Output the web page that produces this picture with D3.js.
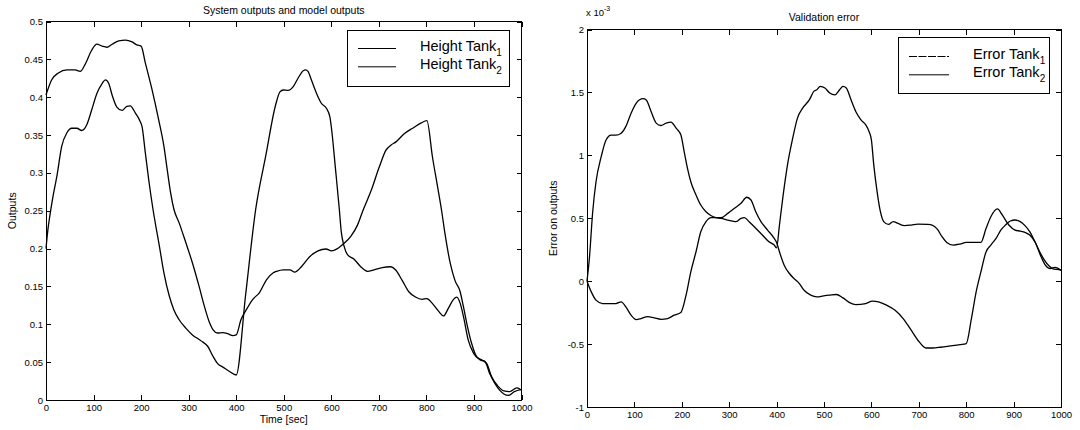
<!DOCTYPE html>
<html><head><meta charset="utf-8">
<script src="https://cdn.jsdelivr.net/npm/d3@7"></script>
<style>
body{margin:0;background:#fff}
svg{display:block}
text{font-family:"Liberation Sans",Arial,Helvetica,sans-serif;fill:#000}
</style>
</head><body>
<svg id="c" width="1080" height="430"></svg>
<script>
// ---------- data ----------
const timeTicks = [0,100,200,300,400,500,600,700,800,900,1000];
const timeTickLabels = ["0","100","200","300","400","500","600","700","800","900","1000"];
const outTicks = [0,0.05,0.1,0.15,0.2,0.25,0.3,0.35,0.4,0.45,0.5];
const outTickLabels = ["0","0.05","0.1","0.15","0.2","0.25","0.3","0.35","0.4","0.45","0.5"];
const errTicks = [-1,-0.5,0,0.5,1,1.5,2];
const errTickLabels = ["-1","-0.5","0","0.5","1","1.5","2"];
const heightNames = ["Height Tank", "Height Tank"];
const errorNames = ["Error Tank", "Error Tank"];
const subscripts = ["1","2"];

// [time (sec), height]
const heightTank1 = [[0,0.403],[12,0.423],[26,0.432],[44,0.436],[61,0.436],[72,0.434],[82,0.443],[96,0.462],[107,0.470],[118,0.4675],[128,0.466],[139,0.470],[153,0.4745],[167,0.4755],[181,0.473],[191,0.469],[200,0.4675],[209,0.445],[223,0.41],[237,0.370],[248,0.335],[255,0.304],[262,0.274],[269,0.252],[280,0.234],[294,0.208],[308,0.181],[322,0.150],[333,0.124],[344,0.102],[351,0.093],[361,0.0885],[372,0.089],[382,0.0876],[393,0.085],[400,0.086],[410,0.106],[421,0.119],[435,0.133],[449,0.142],[464,0.159],[478,0.168],[485,0.170],[499,0.172],[513,0.172],[523,0.169],[537,0.176],[554,0.189],[572,0.197],[589,0.1995],[600,0.197],[613,0.200],[627,0.207],[641,0.216],[655,0.231],[667,0.251],[684,0.277],[701,0.308],[715,0.330],[726,0.337],[736,0.341],[754,0.352],[771,0.359],[789,0.366],[801,0.369],[813,0.32],[824,0.28],[832,0.25],[839,0.22],[850,0.181],[860,0.158],[871,0.143],[878,0.123],[885,0.101],[895,0.075],[906,0.057],[919,0.052],[927,0.048],[937,0.031],[951,0.018],[963,0.012],[975,0.011],[990,0.016],[1000,0.013]];
const heightTank2 = [[0,0.200],[4,0.225],[8,0.243],[15,0.270],[23,0.296],[33,0.335],[44,0.353],[54,0.359],[65,0.359],[75,0.356],[86,0.364],[96,0.383],[107,0.405],[118,0.418],[125,0.423],[132,0.418],[139,0.403],[149,0.387],[160,0.3825],[170,0.388],[177,0.3885],[188,0.379],[198,0.368],[202,0.361],[209,0.326],[216,0.291],[225,0.252],[238,0.205],[248,0.168],[259,0.138],[269,0.119],[280,0.106],[294,0.095],[308,0.086],[322,0.080],[329,0.077],[340,0.071],[351,0.058],[361,0.048],[372,0.0434],[386,0.0376],[400,0.033],[420,0.14],[441,0.252],[462,0.322],[483,0.390],[492,0.407],[499,0.4095],[509,0.409],[520,0.414],[530,0.425],[541,0.435],[546,0.436],[551,0.434],[558,0.423],[569,0.405],[579,0.392],[590,0.385],[597,0.374],[600,0.361],[609,0.304],[617,0.251],[621,0.222],[627,0.203],[634,0.192],[648,0.186],[662,0.176],[676,0.170],[690,0.172],[707,0.175],[725,0.176],[735,0.172],[749,0.158],[763,0.143],[777,0.136],[791,0.133],[801,0.134],[812,0.128],[826,0.117],[836,0.111],[846,0.121],[857,0.133],[864,0.136],[871,0.128],[878,0.110],[888,0.079],[899,0.062],[913,0.053],[923,0.051],[933,0.035],[944,0.022],[954,0.013],[963,0.008],[972,0.006],[985,0.011],[1000,0.014]];

// [time (sec), error x 1e-3]
const errorTank1 = [[0,0],[9,-0.085],[19,-0.151],[33,-0.178],[47,-0.178],[61,-0.178],[72,-0.164],[82,-0.204],[93,-0.27],[104,-0.305],[114,-0.297],[128,-0.281],[142,-0.292],[156,-0.303],[170,-0.297],[184,-0.27],[198,-0.249],[209,-0.111],[219,0.074],[230,0.234],[240,0.393],[251,0.473],[262,0.505],[272,0.505],[283,0.505],[297,0.539],[311,0.579],[325,0.619],[337,0.667],[346,0.645],[356,0.552],[367,0.473],[381,0.406],[395,0.34],[400,0.308],[406,0.234],[416,0.127],[427,0.061],[437,0.02],[448,-0.019],[458,-0.072],[472,-0.111],[485,-0.125],[499,-0.117],[512,-0.111],[526,-0.106],[540,-0.133],[554,-0.17],[567,-0.186],[588,-0.178],[602,-0.159],[615,-0.165],[632,-0.191],[650,-0.231],[667,-0.297],[684,-0.39],[701,-0.483],[715,-0.531],[729,-0.531],[746,-0.525],[766,-0.515],[787,-0.504],[800,-0.496],[811,-0.297],[821,-0.085],[831,0.074],[842,0.234],[852,0.287],[863,0.34],[873,0.406],[883,0.446],[893,0.478],[903,0.486],[914,0.473],[924,0.441],[934,0.393],[945,0.313],[955,0.234],[965,0.167],[975,0.12],[985,0.095],[1000,0.09]];
const errorTank2 = [[0,0],[5,0.18],[12,0.55],[19,0.79],[30,0.99],[40,1.12],[51,1.16],[61,1.16],[72,1.176],[82,1.23],[93,1.335],[104,1.415],[118,1.45],[125,1.44],[135,1.35],[146,1.256],[156,1.237],[167,1.256],[177,1.264],[188,1.216],[198,1.163],[205,1.03],[212,0.897],[219,0.79],[230,0.685],[240,0.605],[251,0.552],[262,0.52],[272,0.505],[283,0.499],[297,0.486],[307,0.478],[314,0.473],[325,0.499],[332,0.505],[342,0.473],[356,0.42],[370,0.367],[384,0.313],[395,0.287],[400,0.265],[406,0.446],[413,0.66],[423,0.924],[434,1.136],[444,1.296],[455,1.375],[469,1.44],[479,1.51],[485,1.521],[492,1.548],[502,1.535],[512,1.495],[523,1.481],[533,1.521],[540,1.548],[547,1.535],[557,1.442],[567,1.349],[578,1.282],[588,1.243],[595,1.19],[600,1.123],[605,0.924],[612,0.712],[619,0.552],[626,0.473],[636,0.451],[646,0.473],[656,0.459],[670,0.441],[684,0.446],[698,0.454],[718,0.451],[728,0.446],[739,0.414],[749,0.353],[759,0.308],[773,0.287],[787,0.295],[800,0.308],[814,0.308],[831,0.308],[842,0.42],[852,0.512],[866,0.574],[876,0.526],[890,0.446],[903,0.406],[914,0.398],[924,0.388],[934,0.367],[945,0.313],[958,0.194],[967,0.128],[977,0.10],[988,0.11],[1000,0.085]];

// ---------- drawing ----------
const svg = d3.select("#c");
const FONT_TICK = 9.5, FONT_LAB = 10.5, FONT_LEG = 14.5;

function panel(o){
  const g = svg.append("g");
  const x = d3.scaleLinear().domain([0,1000]).range([o.x0,o.x1]);
  const y = d3.scaleLinear().domain(o.ydom).range([o.y1,o.y0]);

  const styleAxis = sel => {
    sel.select(".domain").remove();
    sel.selectAll("line").attr("stroke","#000").attr("stroke-width",1).attr("shape-rendering","crispEdges");
    sel.selectAll("text").attr("font-size",FONT_TICK).attr("fill","#000")
       .attr("font-family",'"Liberation Sans",Arial,sans-serif');
  };
  g.append("g").attr("transform",`translate(0,${o.y1})`)
    .call(d3.axisBottom(x).tickValues(timeTicks).tickFormat((d,i)=>timeTickLabels[i])
      .tickSizeInner(-5).tickSizeOuter(0).tickPadding(o.xpad)).call(styleAxis);
  g.append("g").attr("transform",`translate(0,${o.y0})`)
    .call(d3.axisTop(x).tickValues(timeTicks).tickFormat("")
      .tickSizeInner(-5).tickSizeOuter(0)).call(styleAxis);
  g.append("g").attr("transform",`translate(${o.x0},0)`)
    .call(d3.axisLeft(y).tickValues(o.yticks).tickFormat((d,i)=>o.ylabels[i])
      .tickSizeInner(-5).tickSizeOuter(0).tickPadding(3)).call(styleAxis);
  g.append("g").attr("transform",`translate(${o.x1},0)`)
    .call(d3.axisRight(y).tickValues(o.yticks).tickFormat("")
      .tickSizeInner(-5).tickSizeOuter(0)).call(styleAxis);

  g.append("rect").attr("x",o.x0).attr("y",o.y0).attr("width",o.x1-o.x0).attr("height",o.y1-o.y0)
    .attr("fill","none").attr("stroke","#000").attr("stroke-width",1).attr("shape-rendering","crispEdges");

  const line = d3.line().x(d=>x(d[0])).y(d=>y(d[1])).curve(d3.curveMonotoneX);
  o.series.forEach(s=>{
    g.append("path").datum(s).attr("d",line).attr("fill","none")
      .attr("stroke","#000").attr("stroke-width",1.3).attr("stroke-linejoin","round");
  });

  // title
  g.append("text").attr("x",(o.x0+o.x1)/2).attr("y",o.titleY).attr("text-anchor","middle")
    .attr("font-size",FONT_LAB).text(o.title);
  // y label
  g.append("text").attr("transform",`translate(${o.ylabX},${(o.y0+o.y1)/2}) rotate(-90)`)
    .attr("text-anchor","middle").attr("font-size",FONT_LAB).text(o.ylabel);
  if(o.xlabel){
    g.append("text").attr("x",(o.x0+o.x1)/2).attr("y",o.xlabY).attr("text-anchor","middle")
      .attr("font-size",FONT_LAB).text(o.xlabel);
  }
  // legend
  const L = o.legend;
  g.append("rect").attr("x",L.x).attr("y",L.y).attr("width",L.w).attr("height",L.h)
    .attr("fill","#fff").attr("stroke","#000").attr("stroke-width",1).attr("shape-rendering","crispEdges");
  L.names.forEach((n,i)=>{
    const ly = L.y + L.line0 + i*L.step;
    g.append("line").attr("x1",L.x+L.lx0).attr("x2",L.x+L.lx1).attr("y1",ly).attr("y2",ly)
      .attr("stroke","#000").attr("stroke-width",1)
      .attr("stroke-dasharray", L.dash[i] || null);
    const t = g.append("text").attr("x",L.x+L.tx).attr("y",ly+L.tdy).attr("font-size",FONT_LEG);
    t.append("tspan").text(n);
    t.append("tspan").attr("dy",5).attr("font-size",10).text(subscripts[i]);
  });
  return {x,y,g};
}

panel({
  x0:46, x1:521.5, y0:21.5, y1:400, ydom:[0,0.5],
  yticks:outTicks, ylabels:outTickLabels, xpad:4.5,
  series:[heightTank1, heightTank2],
  title:"System outputs and model outputs", titleY:13.5,
  ylabel:"Outputs", ylabX:15.5,
  xlabel:"Time [sec]", xlabY:423,
  legend:{x:347.5, y:30, w:161.5, h:56, line0:18.5, step:18.3, lx0:10.5, lx1:48.5, tx:72.5, tdy:2.5,
          names:heightNames, dash:[null,null]}
});

const right = panel({
  x0:587, x1:1061, y0:29.5, y1:407, ydom:[-1,2],
  yticks:errTicks, ylabels:errTickLabels, xpad:4,
  series:[errorTank1, errorTank2],
  title:"Validation error", titleY:20.5,
  ylabel:"Error on outputs", ylabX:556.5,
  xlabel:null,
  legend:{x:898.5, y:37.5, w:150.5, h:56, line0:19, step:18.3, lx0:10.5, lx1:50.5, tx:74.5, tdy:2.5,
          names:errorNames, dash:["8,1.5",null]}
});

// exponent label
const ex = right.g.append("text").attr("x",586).attr("y",16).attr("font-size",9.5);
ex.append("tspan").text("x 10");
ex.append("tspan").attr("dy",-5).attr("font-size",7).text("-3");
</script>
</body></html>
